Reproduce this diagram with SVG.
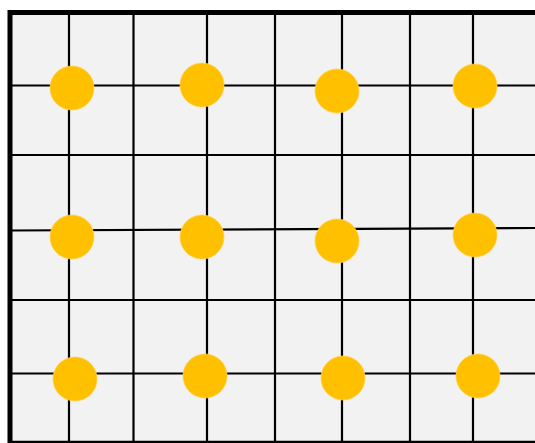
<svg xmlns="http://www.w3.org/2000/svg" width="535" height="443" viewBox="0 0 535 443">
<style>
.bg{fill:#f2f2f2}
.g line{stroke:#000;stroke-width:2.2}
.b{stroke:#000;stroke-width:5;fill:none}
.dot{fill:#ffc000;stroke:#ffd24d;stroke-width:0.8}
</style>
<rect width="535" height="443" fill="#fff"/>
<rect class="bg" x="10" y="12" width="525" height="430"/>
<g id="grid" class="g">
<line x1="69" y1="12" x2="69" y2="443"/>
<line x1="133.5" y1="12" x2="133.5" y2="443"/>
<line x1="207" y1="12" x2="207" y2="443"/>
<line x1="275" y1="12" x2="275" y2="443"/>
<line x1="342" y1="12" x2="342" y2="443"/>
<line x1="410" y1="12" x2="410" y2="443"/>
<line x1="473" y1="12" x2="473" y2="443"/>
<line x1="10" y1="85.5" x2="535" y2="85.5"/>
<line x1="10" y1="155" x2="535" y2="155"/>
<line x1="10" y1="230.5" x2="535" y2="228"/>
<line x1="10" y1="300" x2="535" y2="300"/>
<line x1="10" y1="373.5" x2="535" y2="373.5"/>
<line x1="10" y1="441.8" x2="535" y2="441.8"/>
</g>
<path class="b" d="M10 443 V12.5 H535"/>
<g id="n11"><circle class="dot" cx="72" cy="88" r="22"/></g>
<g id="n12"><circle class="dot" cx="202" cy="85" r="22"/></g>
<g id="n13"><circle class="dot" cx="337" cy="91" r="22"/></g>
<g id="n14"><circle class="dot" cx="475" cy="86" r="22"/></g>
<g id="n21"><circle class="dot" cx="72" cy="237" r="22"/></g>
<g id="n22"><circle class="dot" cx="202" cy="237" r="22"/></g>
<g id="n23"><circle class="dot" cx="337" cy="241" r="22"/></g>
<g id="n24"><circle class="dot" cx="475" cy="235" r="22"/></g>
<g id="n31"><circle class="dot" cx="75" cy="379" r="22"/></g>
<g id="n32"><circle class="dot" cx="205" cy="376" r="22"/></g>
<g id="n33"><circle class="dot" cx="343" cy="378" r="22"/></g>
<g id="n34"><circle class="dot" cx="478" cy="376" r="22"/></g>
</svg>
